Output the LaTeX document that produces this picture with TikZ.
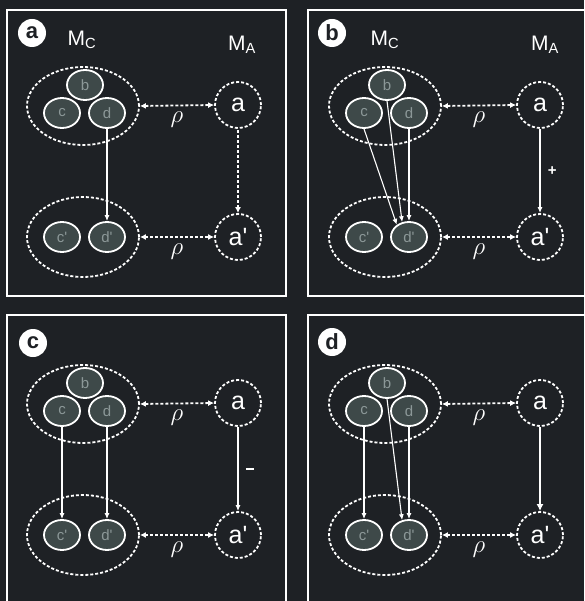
\documentclass[tikz,border=0pt]{standalone}
\usepackage{fontspec}
\setmainfont{Liberation Sans}
\usetikzlibrary{arrows.meta,shapes.geometric}
\definecolor{bg}{RGB}{30,33,37}
\definecolor{cellfill}{RGB}{62,73,73}
\definecolor{celltext}{RGB}{140,152,152}

\tikzset{
  dotted line/.style={draw=white, line width=1.8pt, dash pattern=on 3pt off 2pt},
  group/.style={ellipse, dotted line, minimum width=112pt, minimum height=78pt, inner sep=0pt},
  cell/.style={ellipse, draw=white, line width=1.8pt, fill=cellfill, text=celltext,
    minimum width=36pt, minimum height=30pt, inner sep=0pt, font=\fontsize{15}{15}\selectfont},
  macro/.style={circle, dotted line, minimum size=46pt, inner sep=0pt, text=white,
    font=\fontsize{25}{25}\selectfont},
  rel/.style={dotted line, {Latex[length=6pt,width=6pt]}-{Latex[length=6pt,width=6pt]}},
  cause/.style={draw=white, line width=1.1pt, -{Latex[length=6pt,width=5pt]}},
  tag/.style={circle, fill=white, text=bg, minimum size=28pt, inner sep=0pt,
    font=\bfseries\fontsize{22}{22}\selectfont},
  head/.style={text=white, font=\fontsize{21}{21}\selectfont},
  sign/.style={right=4pt, text=white, font=\bfseries\fontsize{15}{15}\selectfont},
  rholbl/.style={text=white, font=\fontsize{25}{25}\selectfont},
  frame/.style={draw=white, line width=1.6pt}
}

% nodes shared by all four panels
\newcommand\panelnodes{%
  \node[group] (top) at (83,106) {};
  \node[group, minimum height=80pt] (bot) at (83,237) {};
  \node[cell] (b) at (85,85) {b};
  \node[cell] (c) at (62,113) {c};
  \node[cell] (d) at (107,113) {d};
  \node[cell] (c') at (62,237) {c\textquotesingle};
  \node[cell] (d') at (107,237) {d\textquotesingle};
  \node[macro] (a) at (238,105) {a};
  \node[macro] (a') at (238,237) {a\textquotesingle};
  \draw[rel] (top.east) -- (a.west);
  \draw[rel] (bot.east) -- (a'.west);
  \node[rholbl] (rho1) at (177,120) {$\rho$};
  \node[rholbl] (rho2) at (177,252) {$\rho$};
}

\begin{document}
\begin{tikzpicture}[x=1pt, y=-1pt]
  \fill[bg] (0,0) rectangle (584,601);
  \useasboundingbox (0,0) rectangle (584,601);

  % frames
  \draw[frame] (7,10) rectangle (286,296);
  \draw[frame] (308,10) rectangle (592,296);
  \draw[frame] (7,315) rectangle (286,610);
  \draw[frame] (308,315) rectangle (592,610);

  % a: one cell drives the change
  \begin{scope}[name prefix=pa-]
    \panelnodes
    \node[tag] (lbl) at (32,33) {a};
    \node[head] (mc) at (82,40) {M\textsubscript{C}};
    \node[head] (ma) at (242,45) {M\textsubscript{A}};
    \draw[cause] (d.south) -- (d'.north);
    \draw[rel, {Latex[length=6pt,width=6pt]}-{}] (a'.north) -- (a.south);
  \end{scope}

  % b: three cells converge on d'
  \begin{scope}[shift={(302,0)}, name prefix=pb-]
    \panelnodes
    \node[tag] (lbl) at (30,33) {b};
    \node[head] (mc) at (83,40) {M\textsubscript{C}};
    \node[head] (ma) at (243,45) {M\textsubscript{A}};
    \draw[cause] (c.south) -- (d'.135);
    \draw[cause] (b.south) -- (d'.115);
    \draw[cause] (d.south) -- (d'.north);
    \draw[cause] (a.south) -- node[sign] (plus) {+} (a'.north);
  \end{scope}

  % c: two parallel paths
  \begin{scope}[shift={(0,298)}, name prefix=pc-]
    \panelnodes
    \node[tag] (lbl) at (33,45) {c};
    \draw[cause] (c.south) -- (c'.north);
    \draw[cause] (d.south) -- (d'.north);
    \draw[cause] (a.south) -- node[sign] (minus) {\rule{8pt}{1.6pt}} (a'.north);
  \end{scope}

  % d: all paths together
  \begin{scope}[shift={(302,298)}, name prefix=pd-]
    \panelnodes
    \node[tag] (lbl) at (30,44) {d};
    \draw[cause] (c.south) -- (c'.north);
    \draw[cause] (b.south) -- (d'.115);
    \draw[cause] (d.south) -- (d'.north);
    \draw[cause, line width=2.4pt, -{Latex[length=7pt,width=7pt]}] (a.south) -- (a'.north);
  \end{scope}
\end{tikzpicture}
\end{document}
